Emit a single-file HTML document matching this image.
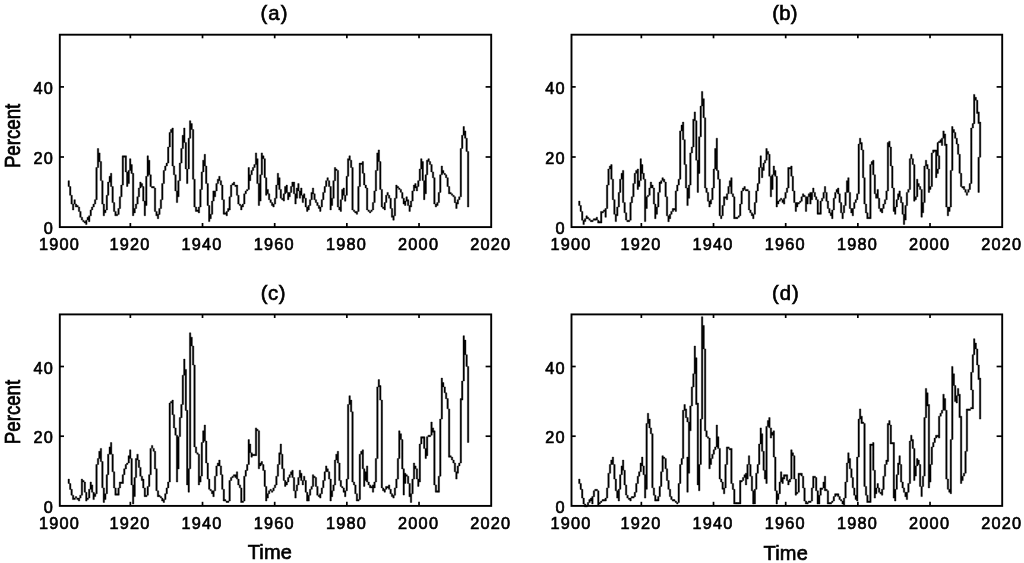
<!DOCTYPE html>
<html><head><meta charset="utf-8"><title>Figure</title>
<style>
html,body{margin:0;padding:0;background:#fff;}
body{width:1024px;height:563px;overflow:hidden;}
svg{display:block;filter:blur(0.4px);}
text{font-family:"Liberation Sans",Arial,Helvetica,sans-serif;fill:#000;stroke:#000;stroke-width:0.65px;}
.tk{font-size:16.3px;letter-spacing:1.2px;}
.ti{font-size:20.3px;letter-spacing:1px;}
.lb{font-size:20px;letter-spacing:0.2px;}
.pl{font-size:18.7px;}
.st{fill:#000;stroke:#000;stroke-width:0.4;stroke-linejoin:round;}
.ax{fill:none;stroke:#000;stroke-width:1.9;}
.t{stroke:#000;stroke-width:1.7;}
.ln{fill:none;stroke:#000;stroke-width:1.75;stroke-linejoin:miter;stroke-miterlimit:3;stroke-linecap:butt;}
</style></head><body>
<svg width="1024" height="563" viewBox="0 0 1024 563">
<rect x="0" y="0" width="1024" height="563" fill="#fff"/>

<g id="panel-a">
<rect class="ax" x="59.80" y="34.70" width="431.40" height="192.40"/>
<text class="tk" transform="translate(59.40,249.70) scale(1.0,1)" text-anchor="middle">1900</text>
<line class="t" x1="130.35" y1="227.10" x2="130.35" y2="223.00"/>
<line class="t" x1="130.35" y1="34.70" x2="130.35" y2="38.30"/>
<text class="tk" transform="translate(129.95,249.70) scale(1.0,1)" text-anchor="middle">1920</text>
<line class="t" x1="202.52" y1="227.10" x2="202.52" y2="223.00"/>
<line class="t" x1="202.52" y1="34.70" x2="202.52" y2="38.30"/>
<text class="tk" transform="translate(202.12,249.70) scale(1.0,1)" text-anchor="middle">1940</text>
<line class="t" x1="274.69" y1="227.10" x2="274.69" y2="223.00"/>
<line class="t" x1="274.69" y1="34.70" x2="274.69" y2="38.30"/>
<text class="tk" transform="translate(274.29,249.70) scale(1.0,1)" text-anchor="middle">1960</text>
<line class="t" x1="346.86" y1="227.10" x2="346.86" y2="223.00"/>
<line class="t" x1="346.86" y1="34.70" x2="346.86" y2="38.30"/>
<text class="tk" transform="translate(346.46,249.70) scale(1.0,1)" text-anchor="middle">1980</text>
<line class="t" x1="419.03" y1="227.10" x2="419.03" y2="223.00"/>
<line class="t" x1="419.03" y1="34.70" x2="419.03" y2="38.30"/>
<text class="tk" transform="translate(418.63,249.70) scale(1.0,1)" text-anchor="middle">2000</text>
<text class="tk" transform="translate(490.80,249.70) scale(1.0,1)" text-anchor="middle">2020</text>
<text class="tk" transform="translate(54.00,234.30) scale(1.0,1)" text-anchor="end">0</text>
<line class="t" x1="59.80" y1="157.00" x2="64.00" y2="157.00"/>
<line class="t" x1="491.20" y1="157.00" x2="485.60" y2="157.00"/>
<text class="tk" transform="translate(54.00,164.20) scale(1.0,1)" text-anchor="end">20</text>
<line class="t" x1="59.80" y1="86.90" x2="64.00" y2="86.90"/>
<line class="t" x1="491.20" y1="86.90" x2="485.60" y2="86.90"/>
<text class="tk" transform="translate(54.00,94.10) scale(1.0,1)" text-anchor="end">40</text>
<text class="ti" style="letter-spacing:1.0px" x="274.5" y="19.5" text-anchor="middle">(a)</text>
<text class="pl" transform="translate(20.1,135.9) rotate(-90) scale(1,1.2)" text-anchor="middle">Percent</text>
<path class="st" d="M68.0 180.7h1.46v5.9h-1.46zM69.5 186.5h1.46v8.8h-1.46zM70.9 195.3h1.46v8.8h-1.46zM72.4 204.1h1.46v5.9h-1.46zM73.9 199.7h1.46v4.4h-1.46zM75.3 204.1h1.46v2.9h-1.46zM76.8 205.5h1.46v1.5h-1.46zM78.3 207.0h1.46v4.4h-1.46zM79.7 211.4h1.46v5.9h-1.46zM81.2 217.2h1.46v2.9h-1.46zM82.7 220.2h1.46v1.5h-1.46zM84.1 221.6h1.46v1.5h-1.46zM85.6 220.2h1.46v4.4h-1.46zM87.0 217.2h1.46v2.9h-1.46zM88.5 215.8h1.46v5.9h-1.46zM90.0 209.9h1.46v5.9h-1.46zM91.4 207.0h1.46v2.9h-1.46zM92.9 204.1h1.46v2.9h-1.46zM94.4 199.7h1.46v4.4h-1.46zM95.8 167.5h1.46v32.2h-1.46zM97.3 148.5h1.46v19.0h-1.46zM98.7 152.9h1.46v8.8h-1.46zM100.2 161.6h1.46v19.0h-1.46zM101.7 180.7h1.46v23.4h-1.46zM103.1 204.1h1.46v11.7h-1.46zM104.6 209.9h1.46v2.9h-1.46zM106.1 195.3h1.46v14.6h-1.46zM107.5 182.1h1.46v13.2h-1.46zM109.0 176.3h1.46v5.9h-1.46zM110.4 173.3h1.46v13.2h-1.46zM111.9 186.5h1.46v16.1h-1.46zM113.4 202.6h1.46v8.8h-1.46zM114.8 211.4h1.46v4.4h-1.46zM116.3 214.3h1.46v1.5h-1.46zM117.8 208.5h1.46v5.9h-1.46zM119.2 196.8h1.46v11.7h-1.46zM120.7 185.1h1.46v11.7h-1.46zM122.1 155.8h1.46v29.3h-1.46zM123.6 155.8h1.46v1.5h-1.46zM125.1 155.8h1.46v16.1h-1.46zM126.5 171.9h1.46v14.6h-1.46zM128.0 170.4h1.46v13.2h-1.46zM129.5 158.7h1.46v11.7h-1.46zM130.9 164.6h1.46v8.8h-1.46zM132.4 173.3h1.46v42.4h-1.46zM133.9 208.5h1.46v4.4h-1.46zM135.3 204.1h1.46v4.4h-1.46zM136.8 196.8h1.46v7.3h-1.46zM138.2 188.0h1.46v8.8h-1.46zM139.7 182.1h1.46v5.9h-1.46zM141.2 183.6h1.46v2.9h-1.46zM142.6 186.5h1.46v14.6h-1.46zM144.1 201.1h1.46v14.6h-1.46zM145.6 176.3h1.46v29.3h-1.46zM147.0 155.8h1.46v20.5h-1.46zM148.5 160.2h1.46v14.6h-1.46zM149.9 174.8h1.46v11.7h-1.46zM151.4 186.5h1.46v1.5h-1.46zM152.9 186.5h1.46v1.5h-1.46zM154.3 188.0h1.46v23.4h-1.46zM155.8 211.4h1.46v4.4h-1.46zM157.3 214.3h1.46v4.4h-1.46zM158.7 208.5h1.46v5.9h-1.46zM160.2 199.7h1.46v8.8h-1.46zM161.6 183.6h1.46v16.1h-1.46zM163.1 170.4h1.46v13.2h-1.46zM164.6 166.0h1.46v4.4h-1.46zM166.0 163.1h1.46v2.9h-1.46zM167.5 147.0h1.46v16.1h-1.46zM169.0 132.4h1.46v14.6h-1.46zM170.4 129.5h1.46v2.9h-1.46zM171.9 128.0h1.46v38.0h-1.46zM173.3 166.0h1.46v8.8h-1.46zM174.8 174.8h1.46v16.1h-1.46zM176.3 190.9h1.46v11.7h-1.46zM177.7 180.7h1.46v16.1h-1.46zM179.2 163.1h1.46v17.6h-1.46zM180.7 148.5h1.46v14.6h-1.46zM182.1 135.3h1.46v13.2h-1.46zM183.6 128.0h1.46v14.6h-1.46zM185.1 142.6h1.46v26.3h-1.46zM186.5 169.0h1.46v14.6h-1.46zM188.0 138.2h1.46v30.7h-1.46zM189.4 120.7h1.46v17.6h-1.46zM190.9 123.6h1.46v5.9h-1.46zM192.4 129.5h1.46v49.7h-1.46zM193.8 179.2h1.46v27.8h-1.46zM195.3 207.0h1.46v4.4h-1.46zM196.8 209.9h1.46v1.5h-1.46zM198.2 207.0h1.46v5.9h-1.46zM199.7 189.4h1.46v17.6h-1.46zM201.1 171.9h1.46v17.6h-1.46zM202.6 160.2h1.46v11.7h-1.46zM204.1 154.3h1.46v11.7h-1.46zM205.5 166.0h1.46v17.6h-1.46zM207.0 183.6h1.46v21.9h-1.46zM208.5 205.5h1.46v16.1h-1.46zM209.9 214.3h1.46v4.4h-1.46zM211.4 201.1h1.46v13.2h-1.46zM212.8 190.9h1.46v10.2h-1.46zM214.3 190.9h1.46v5.9h-1.46zM215.8 183.6h1.46v7.3h-1.46zM217.2 179.2h1.46v4.4h-1.46zM218.7 176.3h1.46v4.4h-1.46zM220.2 180.7h1.46v4.4h-1.46zM221.6 185.1h1.46v14.6h-1.46zM223.1 199.7h1.46v14.6h-1.46zM224.5 212.8h1.46v1.5h-1.46zM226.0 211.4h1.46v4.4h-1.46zM227.5 208.5h1.46v2.9h-1.46zM228.9 196.8h1.46v13.2h-1.46zM230.4 185.1h1.46v11.7h-1.46zM231.9 183.6h1.46v1.5h-1.46zM233.3 182.1h1.46v2.9h-1.46zM234.8 185.1h1.46v1.5h-1.46zM236.3 185.1h1.46v10.2h-1.46zM237.7 195.3h1.46v8.8h-1.46zM239.2 204.1h1.46v1.5h-1.46zM240.6 205.5h1.46v4.4h-1.46zM242.1 204.1h1.46v2.9h-1.46zM243.6 193.8h1.46v10.2h-1.46zM245.0 190.9h1.46v2.9h-1.46zM246.5 189.4h1.46v1.5h-1.46zM248.0 167.5h1.46v21.9h-1.46zM249.4 174.8h1.46v5.9h-1.46zM250.9 170.4h1.46v4.4h-1.46zM252.3 167.5h1.46v2.9h-1.46zM253.8 164.6h1.46v2.9h-1.46zM255.3 152.9h1.46v11.7h-1.46zM256.7 158.7h1.46v24.9h-1.46zM258.2 183.6h1.46v21.9h-1.46zM259.7 174.8h1.46v26.3h-1.46zM261.1 152.9h1.46v21.9h-1.46zM262.6 155.8h1.46v2.9h-1.46zM264.0 158.7h1.46v19.0h-1.46zM265.5 177.7h1.46v17.6h-1.46zM267.0 189.4h1.46v4.4h-1.46zM268.4 193.8h1.46v5.9h-1.46zM269.9 199.7h1.46v2.9h-1.46zM271.4 202.6h1.46v2.9h-1.46zM272.8 204.1h1.46v2.9h-1.46zM274.3 198.2h1.46v5.9h-1.46zM275.7 185.1h1.46v13.2h-1.46zM277.2 173.3h1.46v11.7h-1.46zM278.7 177.7h1.46v11.7h-1.46zM280.1 189.4h1.46v8.8h-1.46zM281.6 198.2h1.46v1.5h-1.46zM283.1 193.8h1.46v7.3h-1.46zM284.5 186.5h1.46v7.3h-1.46zM286.0 185.1h1.46v7.3h-1.46zM287.5 192.4h1.46v7.3h-1.46zM288.9 192.4h1.46v4.4h-1.46zM290.4 186.5h1.46v5.9h-1.46zM291.8 182.1h1.46v4.4h-1.46zM293.3 182.1h1.46v11.7h-1.46zM294.8 193.8h1.46v10.2h-1.46zM296.2 188.0h1.46v10.2h-1.46zM297.7 183.6h1.46v7.3h-1.46zM299.2 190.9h1.46v7.3h-1.46zM300.6 188.0h1.46v7.3h-1.46zM302.1 195.3h1.46v7.3h-1.46zM303.5 193.8h1.46v4.4h-1.46zM305.0 198.2h1.46v8.8h-1.46zM306.5 207.0h1.46v4.4h-1.46zM307.9 205.5h1.46v4.4h-1.46zM309.4 199.7h1.46v5.9h-1.46zM310.9 192.4h1.46v7.3h-1.46zM312.3 188.0h1.46v5.9h-1.46zM313.8 193.8h1.46v5.9h-1.46zM315.2 199.7h1.46v2.9h-1.46zM316.7 202.6h1.46v2.9h-1.46zM318.2 205.5h1.46v2.9h-1.46zM319.6 207.0h1.46v4.4h-1.46zM321.1 199.7h1.46v7.3h-1.46zM322.6 192.4h1.46v7.3h-1.46zM324.0 186.5h1.46v5.9h-1.46zM325.5 180.7h1.46v5.9h-1.46zM326.9 177.7h1.46v2.9h-1.46zM328.4 180.7h1.46v5.9h-1.46zM329.9 186.5h1.46v23.4h-1.46zM331.3 198.2h1.46v7.3h-1.46zM332.8 180.7h1.46v17.6h-1.46zM334.3 167.5h1.46v13.2h-1.46zM335.7 169.0h1.46v1.5h-1.46zM337.2 170.4h1.46v36.6h-1.46zM338.7 207.0h1.46v2.9h-1.46zM340.1 199.7h1.46v11.7h-1.46zM341.6 189.4h1.46v10.2h-1.46zM343.0 188.0h1.46v7.3h-1.46zM344.5 195.3h1.46v5.9h-1.46zM346.0 176.3h1.46v19.0h-1.46zM347.4 158.7h1.46v17.6h-1.46zM348.9 155.8h1.46v4.4h-1.46zM350.4 160.2h1.46v7.3h-1.46zM351.8 167.5h1.46v42.4h-1.46zM353.3 209.9h1.46v1.5h-1.46zM354.7 211.4h1.46v1.5h-1.46zM356.2 211.4h1.46v2.9h-1.46zM357.7 186.5h1.46v24.9h-1.46zM359.1 163.1h1.46v23.4h-1.46zM360.6 163.1h1.46v1.5h-1.46zM362.1 161.6h1.46v11.7h-1.46zM363.5 173.3h1.46v11.7h-1.46zM365.0 185.1h1.46v2.9h-1.46zM366.4 188.0h1.46v21.9h-1.46zM367.9 209.9h1.46v1.5h-1.46zM369.4 211.4h1.46v1.5h-1.46zM370.8 209.9h1.46v1.5h-1.46zM372.3 202.6h1.46v7.3h-1.46zM373.8 190.9h1.46v11.7h-1.46zM375.2 170.4h1.46v20.5h-1.46zM376.7 152.9h1.46v17.6h-1.46zM378.1 149.9h1.46v11.7h-1.46zM379.6 161.6h1.46v27.8h-1.46zM381.1 189.4h1.46v17.6h-1.46zM382.5 207.0h1.46v1.5h-1.46zM384.0 202.6h1.46v7.3h-1.46zM385.5 195.3h1.46v7.3h-1.46zM386.9 192.4h1.46v2.9h-1.46zM388.4 195.3h1.46v2.9h-1.46zM389.9 198.2h1.46v10.2h-1.46zM391.3 208.5h1.46v8.8h-1.46zM392.8 215.8h1.46v4.4h-1.46zM394.2 198.2h1.46v17.6h-1.46zM395.7 185.1h1.46v13.2h-1.46zM397.2 186.5h1.46v1.5h-1.46zM398.6 188.0h1.46v1.5h-1.46zM400.1 189.4h1.46v2.9h-1.46zM401.6 192.4h1.46v5.9h-1.46zM403.0 198.2h1.46v5.9h-1.46zM404.5 201.1h1.46v4.4h-1.46zM405.9 196.8h1.46v4.4h-1.46zM407.4 199.7h1.46v5.9h-1.46zM408.9 205.5h1.46v5.9h-1.46zM410.3 201.1h1.46v5.9h-1.46zM411.8 190.9h1.46v10.2h-1.46zM413.3 185.1h1.46v5.9h-1.46zM414.7 183.6h1.46v4.4h-1.46zM416.2 186.5h1.46v4.4h-1.46zM417.6 180.7h1.46v5.9h-1.46zM419.1 169.0h1.46v11.7h-1.46zM420.6 158.7h1.46v10.2h-1.46zM422.0 161.6h1.46v19.0h-1.46zM423.5 180.7h1.46v19.0h-1.46zM425.0 174.8h1.46v19.0h-1.46zM426.4 160.2h1.46v14.6h-1.46zM427.9 158.7h1.46v2.9h-1.46zM429.3 161.6h1.46v2.9h-1.46zM430.8 164.6h1.46v7.3h-1.46zM432.3 171.9h1.46v5.9h-1.46zM433.7 177.7h1.46v26.3h-1.46zM435.2 204.1h1.46v2.9h-1.46zM436.7 202.6h1.46v2.9h-1.46zM438.1 192.4h1.46v10.2h-1.46zM439.6 174.8h1.46v17.6h-1.46zM441.1 166.0h1.46v8.8h-1.46zM442.5 170.4h1.46v2.9h-1.46zM444.0 173.3h1.46v1.5h-1.46zM445.4 174.8h1.46v2.9h-1.46zM446.9 177.7h1.46v8.8h-1.46zM448.4 186.5h1.46v7.3h-1.46zM449.8 192.4h1.46v1.5h-1.46zM451.3 193.8h1.46v1.5h-1.46zM452.8 195.3h1.46v1.5h-1.46zM454.2 196.8h1.46v5.9h-1.46zM455.7 202.6h1.46v5.9h-1.46zM457.1 199.7h1.46v4.4h-1.46zM458.6 196.8h1.46v2.9h-1.46zM460.1 148.5h1.46v48.3h-1.46zM461.5 135.3h1.46v13.2h-1.46zM463.0 126.5h1.46v8.8h-1.46zM464.5 130.9h1.46v7.3h-1.46zM465.9 138.2h1.46v13.2h-1.46zM467.4 151.4h1.46v55.6h-1.46z"/>
</g>
<g id="panel-b">
<rect class="ax" x="571.50" y="34.70" width="430.70" height="192.40"/>
<text class="tk" transform="translate(571.10,249.70) scale(1.0,1)" text-anchor="middle">1900</text>
<line class="t" x1="641.35" y1="227.10" x2="641.35" y2="223.00"/>
<line class="t" x1="641.35" y1="34.70" x2="641.35" y2="38.30"/>
<text class="tk" transform="translate(640.95,249.70) scale(1.0,1)" text-anchor="middle">1920</text>
<line class="t" x1="713.52" y1="227.10" x2="713.52" y2="223.00"/>
<line class="t" x1="713.52" y1="34.70" x2="713.52" y2="38.30"/>
<text class="tk" transform="translate(713.12,249.70) scale(1.0,1)" text-anchor="middle">1940</text>
<line class="t" x1="785.69" y1="227.10" x2="785.69" y2="223.00"/>
<line class="t" x1="785.69" y1="34.70" x2="785.69" y2="38.30"/>
<text class="tk" transform="translate(785.29,249.70) scale(1.0,1)" text-anchor="middle">1960</text>
<line class="t" x1="857.86" y1="227.10" x2="857.86" y2="223.00"/>
<line class="t" x1="857.86" y1="34.70" x2="857.86" y2="38.30"/>
<text class="tk" transform="translate(857.46,249.70) scale(1.0,1)" text-anchor="middle">1980</text>
<line class="t" x1="930.03" y1="227.10" x2="930.03" y2="223.00"/>
<line class="t" x1="930.03" y1="34.70" x2="930.03" y2="38.30"/>
<text class="tk" transform="translate(929.63,249.70) scale(1.0,1)" text-anchor="middle">2000</text>
<text class="tk" transform="translate(1001.80,249.70) scale(1.0,1)" text-anchor="middle">2020</text>
<text class="tk" transform="translate(565.70,234.30) scale(1.0,1)" text-anchor="end">0</text>
<line class="t" x1="571.50" y1="157.00" x2="575.70" y2="157.00"/>
<line class="t" x1="1002.20" y1="157.00" x2="996.60" y2="157.00"/>
<text class="tk" transform="translate(565.70,164.20) scale(1.0,1)" text-anchor="end">20</text>
<line class="t" x1="571.50" y1="86.90" x2="575.70" y2="86.90"/>
<line class="t" x1="1002.20" y1="86.90" x2="996.60" y2="86.90"/>
<text class="tk" transform="translate(565.70,94.10) scale(1.0,1)" text-anchor="end">40</text>
<text class="ti" style="letter-spacing:0.3px" x="785.0" y="19.5" text-anchor="middle">(b)</text>
<path class="st" d="M578.6 201.1h1.46v4.4h-1.46zM580.0 205.5h1.46v5.9h-1.46zM581.5 211.4h1.46v8.8h-1.46zM582.9 220.2h1.46v4.4h-1.46zM584.4 218.7h1.46v2.9h-1.46zM585.9 215.8h1.46v2.9h-1.46zM587.3 217.2h1.46v1.5h-1.46zM588.8 218.7h1.46v1.5h-1.46zM590.3 220.2h1.46v1.5h-1.46zM591.7 220.2h1.46v1.5h-1.46zM593.2 218.7h1.46v1.5h-1.46zM594.7 218.7h1.46v1.5h-1.46zM596.1 217.2h1.46v2.9h-1.46zM597.6 220.2h1.46v2.9h-1.46zM599.0 221.6h1.46v1.5h-1.46zM600.5 211.4h1.46v11.7h-1.46zM602.0 211.4h1.46v1.5h-1.46zM603.4 209.9h1.46v1.5h-1.46zM604.9 208.5h1.46v8.8h-1.46zM606.4 185.1h1.46v23.4h-1.46zM607.8 169.0h1.46v16.1h-1.46zM609.3 166.0h1.46v2.9h-1.46zM610.7 164.6h1.46v14.6h-1.46zM612.2 179.2h1.46v20.5h-1.46zM613.7 199.7h1.46v14.6h-1.46zM615.1 214.3h1.46v7.3h-1.46zM616.6 207.0h1.46v8.8h-1.46zM618.1 192.4h1.46v14.6h-1.46zM619.5 179.2h1.46v13.2h-1.46zM621.0 173.3h1.46v5.9h-1.46zM622.4 170.4h1.46v32.2h-1.46zM623.9 202.6h1.46v10.2h-1.46zM625.4 212.8h1.46v7.3h-1.46zM626.8 220.2h1.46v1.5h-1.46zM628.3 220.2h1.46v1.5h-1.46zM629.8 202.6h1.46v17.6h-1.46zM631.2 196.8h1.46v5.9h-1.46zM632.7 183.6h1.46v13.2h-1.46zM634.1 173.3h1.46v10.2h-1.46zM635.6 170.4h1.46v2.9h-1.46zM637.1 169.0h1.46v20.5h-1.46zM638.5 180.7h1.46v5.9h-1.46zM640.0 158.7h1.46v21.9h-1.46zM641.5 164.6h1.46v8.8h-1.46zM642.9 173.3h1.46v5.9h-1.46zM644.4 179.2h1.46v42.4h-1.46zM645.9 196.8h1.46v11.7h-1.46zM647.3 195.3h1.46v1.5h-1.46zM648.8 188.0h1.46v7.3h-1.46zM650.2 182.1h1.46v5.9h-1.46zM651.7 185.1h1.46v2.9h-1.46zM653.2 188.0h1.46v16.1h-1.46zM654.6 204.1h1.46v14.6h-1.46zM656.1 207.0h1.46v7.3h-1.46zM657.6 192.4h1.46v14.6h-1.46zM659.0 182.1h1.46v10.2h-1.46zM660.5 180.7h1.46v2.9h-1.46zM661.9 177.7h1.46v2.9h-1.46zM663.4 179.2h1.46v2.9h-1.46zM664.9 182.1h1.46v14.6h-1.46zM666.3 196.8h1.46v19.0h-1.46zM667.8 215.8h1.46v5.9h-1.46zM669.3 214.3h1.46v4.4h-1.46zM670.7 211.4h1.46v2.9h-1.46zM672.2 208.5h1.46v2.9h-1.46zM673.6 208.5h1.46v1.5h-1.46zM675.1 190.9h1.46v20.5h-1.46zM676.6 185.1h1.46v5.9h-1.46zM678.0 179.2h1.46v5.9h-1.46zM679.5 130.9h1.46v48.3h-1.46zM681.0 125.1h1.46v5.9h-1.46zM682.4 122.1h1.46v17.6h-1.46zM683.9 139.7h1.46v24.9h-1.46zM685.3 164.6h1.46v23.4h-1.46zM686.8 188.0h1.46v17.6h-1.46zM688.3 185.1h1.46v13.2h-1.46zM689.7 152.9h1.46v32.2h-1.46zM691.2 147.0h1.46v5.9h-1.46zM692.7 119.2h1.46v27.8h-1.46zM694.1 111.9h1.46v8.8h-1.46zM695.6 120.7h1.46v39.5h-1.46zM697.1 160.2h1.46v32.2h-1.46zM698.5 136.8h1.46v36.6h-1.46zM700.0 106.1h1.46v30.7h-1.46zM701.4 91.4h1.46v14.6h-1.46zM702.9 98.7h1.46v19.0h-1.46zM704.4 117.8h1.46v70.2h-1.46zM705.8 188.0h1.46v4.4h-1.46zM707.3 192.4h1.46v8.8h-1.46zM708.8 201.1h1.46v5.9h-1.46zM710.2 199.7h1.46v4.4h-1.46zM711.7 188.0h1.46v11.7h-1.46zM713.1 169.0h1.46v19.0h-1.46zM714.6 148.5h1.46v20.5h-1.46zM716.1 138.2h1.46v32.2h-1.46zM717.5 170.4h1.46v8.8h-1.46zM719.0 179.2h1.46v36.6h-1.46zM720.5 215.8h1.46v2.9h-1.46zM721.9 205.5h1.46v10.2h-1.46zM723.4 196.8h1.46v8.8h-1.46zM724.8 196.8h1.46v1.5h-1.46zM726.3 193.8h1.46v5.9h-1.46zM727.8 186.5h1.46v7.3h-1.46zM729.2 180.7h1.46v5.9h-1.46zM730.7 177.7h1.46v16.1h-1.46zM732.2 193.8h1.46v2.9h-1.46zM733.6 196.8h1.46v21.9h-1.46zM735.1 217.2h1.46v1.5h-1.46zM736.5 217.2h1.46v1.5h-1.46zM738.0 215.8h1.46v1.5h-1.46zM739.5 204.1h1.46v11.7h-1.46zM740.9 190.9h1.46v13.2h-1.46zM742.4 188.0h1.46v2.9h-1.46zM743.9 186.5h1.46v2.9h-1.46zM745.3 189.4h1.46v1.5h-1.46zM746.8 189.4h1.46v1.5h-1.46zM748.3 190.9h1.46v19.0h-1.46zM749.7 209.9h1.46v2.9h-1.46zM751.2 212.8h1.46v2.9h-1.46zM752.6 214.3h1.46v4.4h-1.46zM754.1 202.6h1.46v11.7h-1.46zM755.6 190.9h1.46v11.7h-1.46zM757.0 183.6h1.46v7.3h-1.46zM758.5 167.5h1.46v16.1h-1.46zM760.0 155.8h1.46v11.7h-1.46zM761.4 167.5h1.46v10.2h-1.46zM762.9 163.1h1.46v7.3h-1.46zM764.3 160.2h1.46v2.9h-1.46zM765.8 148.5h1.46v11.7h-1.46zM767.3 151.4h1.46v2.9h-1.46zM768.7 154.3h1.46v21.9h-1.46zM770.2 176.3h1.46v20.5h-1.46zM771.7 174.8h1.46v14.6h-1.46zM773.1 166.0h1.46v8.8h-1.46zM774.6 170.4h1.46v5.9h-1.46zM776.0 176.3h1.46v30.7h-1.46zM777.5 201.1h1.46v2.9h-1.46zM779.0 199.7h1.46v1.5h-1.46zM780.4 198.2h1.46v1.5h-1.46zM781.9 199.7h1.46v2.9h-1.46zM783.4 198.2h1.46v5.9h-1.46zM784.8 192.4h1.46v5.9h-1.46zM786.3 188.0h1.46v4.4h-1.46zM787.7 167.5h1.46v20.5h-1.46zM789.2 167.5h1.46v1.5h-1.46zM790.7 166.0h1.46v10.2h-1.46zM792.1 176.3h1.46v14.6h-1.46zM793.6 190.9h1.46v11.7h-1.46zM795.1 202.6h1.46v8.8h-1.46zM796.5 202.6h1.46v4.4h-1.46zM798.0 202.6h1.46v1.5h-1.46zM799.5 201.1h1.46v1.5h-1.46zM800.9 196.8h1.46v4.4h-1.46zM802.4 193.8h1.46v2.9h-1.46zM803.8 195.3h1.46v1.5h-1.46zM805.3 196.8h1.46v14.6h-1.46zM806.8 196.8h1.46v7.3h-1.46zM808.2 193.8h1.46v2.9h-1.46zM809.7 192.4h1.46v11.7h-1.46zM811.2 192.4h1.46v7.3h-1.46zM812.6 188.0h1.46v4.4h-1.46zM814.1 192.4h1.46v4.4h-1.46zM815.5 196.8h1.46v2.9h-1.46zM817.0 199.7h1.46v14.6h-1.46zM818.5 212.8h1.46v1.5h-1.46zM819.9 201.1h1.46v13.2h-1.46zM821.4 198.2h1.46v2.9h-1.46zM822.9 192.4h1.46v5.9h-1.46zM824.3 186.5h1.46v5.9h-1.46zM825.8 192.4h1.46v8.8h-1.46zM827.2 201.1h1.46v7.3h-1.46zM828.7 208.5h1.46v4.4h-1.46zM830.2 212.8h1.46v2.9h-1.46zM831.6 209.9h1.46v8.8h-1.46zM833.1 198.2h1.46v11.7h-1.46zM834.6 192.4h1.46v5.9h-1.46zM836.0 189.4h1.46v2.9h-1.46zM837.5 188.0h1.46v5.9h-1.46zM838.9 193.8h1.46v8.8h-1.46zM840.4 202.6h1.46v10.2h-1.46zM841.9 212.8h1.46v5.9h-1.46zM843.3 205.5h1.46v7.3h-1.46zM844.8 192.4h1.46v13.2h-1.46zM846.3 180.7h1.46v11.7h-1.46zM847.7 177.7h1.46v14.6h-1.46zM849.2 192.4h1.46v16.1h-1.46zM850.7 208.5h1.46v4.4h-1.46zM852.1 208.5h1.46v7.3h-1.46zM853.6 202.6h1.46v5.9h-1.46zM855.0 199.7h1.46v2.9h-1.46zM856.5 193.8h1.46v5.9h-1.46zM858.0 144.1h1.46v49.7h-1.46zM859.4 138.2h1.46v5.9h-1.46zM860.9 142.6h1.46v7.3h-1.46zM862.4 149.9h1.46v27.8h-1.46zM863.8 177.7h1.46v26.3h-1.46zM865.3 204.1h1.46v8.8h-1.46zM866.7 212.8h1.46v5.9h-1.46zM868.2 217.2h1.46v1.5h-1.46zM869.7 164.6h1.46v54.1h-1.46zM871.1 161.6h1.46v2.9h-1.46zM872.6 160.2h1.46v14.6h-1.46zM874.1 174.8h1.46v19.0h-1.46zM875.5 193.8h1.46v4.4h-1.46zM877.0 189.4h1.46v8.8h-1.46zM878.4 198.2h1.46v10.2h-1.46zM879.9 208.5h1.46v2.9h-1.46zM881.4 208.5h1.46v4.4h-1.46zM882.8 204.1h1.46v4.4h-1.46zM884.3 199.7h1.46v4.4h-1.46zM885.8 190.9h1.46v8.8h-1.46zM887.2 142.6h1.46v48.3h-1.46zM888.7 141.2h1.46v5.9h-1.46zM890.1 147.0h1.46v19.0h-1.46zM891.6 166.0h1.46v21.9h-1.46zM893.1 188.0h1.46v23.4h-1.46zM894.5 207.0h1.46v7.3h-1.46zM896.0 199.7h1.46v7.3h-1.46zM897.5 193.8h1.46v5.9h-1.46zM898.9 190.9h1.46v5.9h-1.46zM900.4 196.8h1.46v5.9h-1.46zM901.9 202.6h1.46v11.7h-1.46zM903.3 214.3h1.46v10.2h-1.46zM904.8 205.5h1.46v14.6h-1.46zM906.2 192.4h1.46v13.2h-1.46zM907.7 189.4h1.46v2.9h-1.46zM909.2 158.7h1.46v30.7h-1.46zM910.6 154.3h1.46v4.4h-1.46zM912.1 158.7h1.46v5.9h-1.46zM913.6 164.6h1.46v36.6h-1.46zM915.0 196.8h1.46v2.9h-1.46zM916.5 179.2h1.46v17.6h-1.46zM917.9 183.6h1.46v2.9h-1.46zM919.4 186.5h1.46v2.9h-1.46zM920.9 189.4h1.46v27.8h-1.46zM922.3 202.6h1.46v10.2h-1.46zM923.8 166.0h1.46v36.6h-1.46zM925.3 160.2h1.46v5.9h-1.46zM926.7 164.6h1.46v4.4h-1.46zM928.2 169.0h1.46v23.4h-1.46zM929.6 186.5h1.46v2.9h-1.46zM931.1 152.9h1.46v33.6h-1.46zM932.6 149.9h1.46v2.9h-1.46zM934.0 149.9h1.46v1.5h-1.46zM935.5 149.9h1.46v27.8h-1.46zM937.0 142.6h1.46v13.2h-1.46zM937.0 169.0h1.46v4.4h-1.46zM938.4 141.2h1.46v1.5h-1.46zM938.4 155.8h1.46v13.2h-1.46zM939.9 139.7h1.46v2.9h-1.46zM941.3 138.2h1.46v7.3h-1.46zM942.8 130.9h1.46v7.3h-1.46zM944.3 133.9h1.46v11.7h-1.46zM945.7 144.1h1.46v62.9h-1.46zM947.2 207.0h1.46v8.8h-1.46zM948.7 207.0h1.46v4.4h-1.46zM950.1 170.4h1.46v36.6h-1.46zM951.6 126.5h1.46v43.9h-1.46zM953.1 129.5h1.46v2.9h-1.46zM954.5 132.4h1.46v5.9h-1.46zM956.0 138.2h1.46v5.9h-1.46zM957.4 144.1h1.46v10.2h-1.46zM958.9 154.3h1.46v19.0h-1.46zM960.4 173.3h1.46v13.2h-1.46zM961.8 186.5h1.46v1.5h-1.46zM963.3 186.5h1.46v2.9h-1.46zM964.8 189.4h1.46v2.9h-1.46zM966.2 192.4h1.46v2.9h-1.46zM967.7 189.4h1.46v2.9h-1.46zM969.1 183.6h1.46v5.9h-1.46zM970.6 128.0h1.46v55.6h-1.46zM972.1 123.6h1.46v4.4h-1.46zM973.5 94.4h1.46v29.3h-1.46zM975.0 97.3h1.46v2.9h-1.46zM976.5 100.2h1.46v13.2h-1.46zM977.9 111.9h1.46v11.7h-1.46zM977.9 157.3h1.46v35.1h-1.46zM979.4 122.1h1.46v35.1h-1.46z"/>
</g>
<g id="panel-c">
<rect class="ax" x="59.80" y="314.40" width="431.40" height="191.50"/>
<text class="tk" transform="translate(59.40,528.50) scale(1.0,1)" text-anchor="middle">1900</text>
<line class="t" x1="130.35" y1="505.90" x2="130.35" y2="501.80"/>
<line class="t" x1="130.35" y1="314.40" x2="130.35" y2="318.00"/>
<text class="tk" transform="translate(129.95,528.50) scale(1.0,1)" text-anchor="middle">1920</text>
<line class="t" x1="202.52" y1="505.90" x2="202.52" y2="501.80"/>
<line class="t" x1="202.52" y1="314.40" x2="202.52" y2="318.00"/>
<text class="tk" transform="translate(202.12,528.50) scale(1.0,1)" text-anchor="middle">1940</text>
<line class="t" x1="274.69" y1="505.90" x2="274.69" y2="501.80"/>
<line class="t" x1="274.69" y1="314.40" x2="274.69" y2="318.00"/>
<text class="tk" transform="translate(274.29,528.50) scale(1.0,1)" text-anchor="middle">1960</text>
<line class="t" x1="346.86" y1="505.90" x2="346.86" y2="501.80"/>
<line class="t" x1="346.86" y1="314.40" x2="346.86" y2="318.00"/>
<text class="tk" transform="translate(346.46,528.50) scale(1.0,1)" text-anchor="middle">1980</text>
<line class="t" x1="419.03" y1="505.90" x2="419.03" y2="501.80"/>
<line class="t" x1="419.03" y1="314.40" x2="419.03" y2="318.00"/>
<text class="tk" transform="translate(418.63,528.50) scale(1.0,1)" text-anchor="middle">2000</text>
<text class="tk" transform="translate(490.80,528.50) scale(1.0,1)" text-anchor="middle">2020</text>
<text class="tk" transform="translate(54.00,513.10) scale(1.0,1)" text-anchor="end">0</text>
<line class="t" x1="59.80" y1="436.20" x2="64.00" y2="436.20"/>
<line class="t" x1="491.20" y1="436.20" x2="485.60" y2="436.20"/>
<text class="tk" transform="translate(54.00,443.40) scale(1.0,1)" text-anchor="end">20</text>
<line class="t" x1="59.80" y1="366.50" x2="64.00" y2="366.50"/>
<line class="t" x1="491.20" y1="366.50" x2="485.60" y2="366.50"/>
<text class="tk" transform="translate(54.00,373.70) scale(1.0,1)" text-anchor="end">40</text>
<text class="ti" style="letter-spacing:0.5px" x="273.4" y="300.3" text-anchor="middle">(c)</text>
<text class="pl" transform="translate(20.1,412.0) rotate(-90) scale(1,1.2)" text-anchor="middle">Percent</text>
<text class="lb" x="269.9" y="558.6" text-anchor="middle">Time</text>
<path class="st" d="M68.0 479.1h1.46v4.4h-1.46zM69.5 483.5h1.46v5.9h-1.46zM70.9 489.3h1.46v5.9h-1.46zM72.4 495.2h1.46v4.4h-1.46zM73.9 498.1h1.46v1.5h-1.46zM75.3 496.6h1.46v1.5h-1.46zM76.8 498.1h1.46v1.5h-1.46zM78.3 498.1h1.46v2.9h-1.46zM79.7 495.2h1.46v2.9h-1.46zM81.2 479.1h1.46v16.1h-1.46zM82.7 480.5h1.46v1.5h-1.46zM84.1 482.0h1.46v10.2h-1.46zM85.6 492.3h1.46v8.8h-1.46zM87.0 498.1h1.46v1.5h-1.46zM88.5 489.3h1.46v8.8h-1.46zM90.0 482.0h1.46v7.3h-1.46zM91.4 484.9h1.46v7.3h-1.46zM92.9 492.3h1.46v7.3h-1.46zM94.4 493.7h1.46v2.9h-1.46zM95.8 464.5h1.46v29.3h-1.46zM97.3 458.6h1.46v5.9h-1.46zM98.7 451.3h1.46v7.3h-1.46zM100.2 448.4h1.46v13.2h-1.46zM101.7 461.5h1.46v26.3h-1.46zM103.1 487.9h1.46v14.6h-1.46zM104.6 493.7h1.46v5.9h-1.46zM106.1 474.7h1.46v19.0h-1.46zM107.5 454.2h1.46v20.5h-1.46zM109.0 446.9h1.46v7.3h-1.46zM110.4 442.5h1.46v11.7h-1.46zM111.9 454.2h1.46v17.6h-1.46zM113.4 471.8h1.46v16.1h-1.46zM114.8 487.9h1.46v7.3h-1.46zM116.3 493.7h1.46v1.5h-1.46zM117.8 487.9h1.46v7.3h-1.46zM119.2 482.0h1.46v5.9h-1.46zM120.7 482.0h1.46v1.5h-1.46zM122.1 474.7h1.46v8.8h-1.46zM123.6 468.8h1.46v5.9h-1.46zM125.1 464.5h1.46v4.4h-1.46zM126.5 463.0h1.46v1.5h-1.46zM128.0 455.7h1.46v7.3h-1.46zM129.5 449.8h1.46v8.8h-1.46zM130.9 458.6h1.46v26.3h-1.46zM132.4 484.9h1.46v19.0h-1.46zM133.9 477.6h1.46v19.0h-1.46zM135.3 458.6h1.46v19.0h-1.46zM136.8 454.2h1.46v5.9h-1.46zM138.2 460.1h1.46v7.3h-1.46zM139.7 467.4h1.46v8.8h-1.46zM141.2 476.2h1.46v4.4h-1.46zM142.6 479.1h1.46v8.8h-1.46zM144.1 487.9h1.46v8.8h-1.46zM145.6 495.2h1.46v1.5h-1.46zM147.0 486.4h1.46v8.8h-1.46zM148.5 474.7h1.46v11.7h-1.46zM149.9 448.4h1.46v26.3h-1.46zM151.4 445.4h1.46v2.9h-1.46zM152.9 448.4h1.46v2.9h-1.46zM154.3 451.3h1.46v17.6h-1.46zM155.8 468.8h1.46v21.9h-1.46zM157.3 490.8h1.46v5.9h-1.46zM158.7 495.2h1.46v1.5h-1.46zM160.2 496.6h1.46v1.5h-1.46zM161.6 498.1h1.46v2.9h-1.46zM163.1 499.6h1.46v2.9h-1.46zM164.6 493.7h1.46v5.9h-1.46zM166.0 487.9h1.46v5.9h-1.46zM167.5 482.0h1.46v5.9h-1.46zM169.0 403.0h1.46v79.0h-1.46zM170.4 401.6h1.46v1.5h-1.46zM171.9 400.1h1.46v14.6h-1.46zM173.3 414.7h1.46v13.2h-1.46zM174.8 427.9h1.46v7.3h-1.46zM176.3 435.2h1.46v46.8h-1.46zM177.7 436.7h1.46v32.2h-1.46zM179.2 417.6h1.46v19.0h-1.46zM180.7 404.5h1.46v13.2h-1.46zM182.1 375.2h1.46v29.3h-1.46zM183.6 359.1h1.46v16.1h-1.46zM185.1 369.4h1.46v41.0h-1.46zM186.5 410.3h1.46v74.6h-1.46zM188.0 468.8h1.46v23.4h-1.46zM189.4 332.8h1.46v136.0h-1.46zM190.9 337.2h1.46v8.8h-1.46zM192.4 346.0h1.46v19.0h-1.46zM193.8 365.0h1.46v81.9h-1.46zM195.3 446.9h1.46v5.9h-1.46zM196.8 452.8h1.46v1.5h-1.46zM198.2 454.2h1.46v30.7h-1.46zM199.7 476.2h1.46v5.9h-1.46zM201.1 442.5h1.46v33.6h-1.46zM202.6 430.8h1.46v11.7h-1.46zM204.1 425.0h1.46v16.1h-1.46zM205.5 441.1h1.46v21.9h-1.46zM207.0 463.0h1.46v16.1h-1.46zM208.5 479.1h1.46v10.2h-1.46zM209.9 489.3h1.46v1.5h-1.46zM211.4 490.8h1.46v2.9h-1.46zM212.8 490.8h1.46v5.9h-1.46zM214.3 476.2h1.46v14.6h-1.46zM215.8 465.9h1.46v10.2h-1.46zM217.2 463.0h1.46v2.9h-1.46zM218.7 460.1h1.46v5.9h-1.46zM220.2 465.9h1.46v8.8h-1.46zM221.6 474.7h1.46v14.6h-1.46zM223.1 489.3h1.46v11.7h-1.46zM224.5 499.6h1.46v1.5h-1.46zM226.0 501.0h1.46v1.5h-1.46zM227.5 501.0h1.46v1.5h-1.46zM228.9 480.5h1.46v20.5h-1.46zM230.4 477.6h1.46v2.9h-1.46zM231.9 476.2h1.46v1.5h-1.46zM233.3 474.7h1.46v1.5h-1.46zM234.8 474.7h1.46v2.9h-1.46zM236.3 471.8h1.46v7.3h-1.46zM237.7 479.1h1.46v5.9h-1.46zM239.2 484.9h1.46v2.9h-1.46zM240.6 487.9h1.46v14.6h-1.46zM242.1 501.0h1.46v1.5h-1.46zM243.6 476.2h1.46v24.9h-1.46zM245.0 470.3h1.46v5.9h-1.46zM246.5 464.5h1.46v5.9h-1.46zM248.0 439.6h1.46v24.9h-1.46zM249.4 444.0h1.46v8.8h-1.46zM250.9 452.8h1.46v4.4h-1.46zM252.3 454.2h1.46v1.5h-1.46zM253.8 454.2h1.46v1.5h-1.46zM255.3 427.9h1.46v27.8h-1.46zM256.7 429.3h1.46v1.5h-1.46zM258.2 430.8h1.46v38.0h-1.46zM259.7 463.0h1.46v2.9h-1.46zM261.1 461.5h1.46v2.9h-1.46zM262.6 464.5h1.46v5.9h-1.46zM264.0 470.3h1.46v16.1h-1.46zM265.5 486.4h1.46v14.6h-1.46zM267.0 493.7h1.46v4.4h-1.46zM268.4 490.8h1.46v2.9h-1.46zM269.9 489.3h1.46v1.5h-1.46zM271.4 490.8h1.46v1.5h-1.46zM272.8 487.9h1.46v2.9h-1.46zM274.3 484.9h1.46v2.9h-1.46zM275.7 476.2h1.46v8.8h-1.46zM277.2 464.5h1.46v11.7h-1.46zM278.7 452.8h1.46v11.7h-1.46zM280.1 444.0h1.46v10.2h-1.46zM281.6 454.2h1.46v14.6h-1.46zM283.1 468.8h1.46v11.7h-1.46zM284.5 480.5h1.46v5.9h-1.46zM286.0 482.0h1.46v2.9h-1.46zM287.5 477.6h1.46v4.4h-1.46zM288.9 474.7h1.46v2.9h-1.46zM290.4 471.8h1.46v2.9h-1.46zM291.8 470.3h1.46v7.3h-1.46zM293.3 477.6h1.46v13.2h-1.46zM294.8 490.8h1.46v7.3h-1.46zM296.2 484.9h1.46v5.9h-1.46zM297.7 477.6h1.46v7.3h-1.46zM299.2 470.3h1.46v7.3h-1.46zM300.6 473.2h1.46v7.3h-1.46zM302.1 480.5h1.46v4.4h-1.46zM303.5 476.2h1.46v4.4h-1.46zM305.0 480.5h1.46v11.7h-1.46zM306.5 492.3h1.46v8.8h-1.46zM307.9 495.2h1.46v5.9h-1.46zM309.4 489.3h1.46v5.9h-1.46zM310.9 486.4h1.46v2.9h-1.46zM312.3 474.7h1.46v11.7h-1.46zM313.8 476.2h1.46v1.5h-1.46zM315.2 477.6h1.46v8.8h-1.46zM316.7 486.4h1.46v8.8h-1.46zM318.2 495.2h1.46v1.5h-1.46zM319.6 493.7h1.46v4.4h-1.46zM321.1 487.9h1.46v5.9h-1.46zM322.6 480.5h1.46v7.3h-1.46zM324.0 471.8h1.46v8.8h-1.46zM325.5 465.9h1.46v5.9h-1.46zM326.9 468.8h1.46v2.9h-1.46zM328.4 471.8h1.46v7.3h-1.46zM329.9 479.1h1.46v21.9h-1.46zM331.3 490.8h1.46v5.9h-1.46zM332.8 484.9h1.46v5.9h-1.46zM334.3 460.1h1.46v24.9h-1.46zM335.7 454.2h1.46v5.9h-1.46zM337.2 451.3h1.46v11.7h-1.46zM338.7 463.0h1.46v17.6h-1.46zM340.1 480.5h1.46v5.9h-1.46zM341.6 486.4h1.46v1.5h-1.46zM343.0 487.9h1.46v4.4h-1.46zM344.5 490.8h1.46v5.9h-1.46zM346.0 479.1h1.46v11.7h-1.46zM347.4 404.5h1.46v74.6h-1.46zM348.9 395.7h1.46v8.8h-1.46zM350.4 400.1h1.46v11.7h-1.46zM351.8 411.8h1.46v70.2h-1.46zM353.3 482.0h1.46v2.9h-1.46zM354.7 484.9h1.46v8.8h-1.46zM356.2 493.7h1.46v7.3h-1.46zM357.7 499.6h1.46v1.5h-1.46zM359.1 454.2h1.46v45.3h-1.46zM360.6 451.3h1.46v2.9h-1.46zM362.1 449.8h1.46v19.0h-1.46zM363.5 468.8h1.46v17.6h-1.46zM365.0 471.8h1.46v8.8h-1.46zM366.4 465.9h1.46v16.1h-1.46zM367.9 482.0h1.46v2.9h-1.46zM369.4 484.9h1.46v2.9h-1.46zM370.8 486.4h1.46v1.5h-1.46zM372.3 484.9h1.46v7.3h-1.46zM373.8 482.0h1.46v5.9h-1.46zM375.2 458.6h1.46v23.4h-1.46zM376.7 386.9h1.46v71.7h-1.46zM378.1 379.6h1.46v7.3h-1.46zM379.6 385.5h1.46v14.6h-1.46zM381.1 400.1h1.46v87.8h-1.46zM382.5 487.9h1.46v2.9h-1.46zM384.0 489.3h1.46v2.9h-1.46zM385.5 486.4h1.46v2.9h-1.46zM386.9 486.4h1.46v1.5h-1.46zM388.4 484.9h1.46v4.4h-1.46zM389.9 489.3h1.46v4.4h-1.46zM391.3 493.7h1.46v2.9h-1.46zM392.8 495.2h1.46v2.9h-1.46zM394.2 487.9h1.46v7.3h-1.46zM395.7 479.1h1.46v8.8h-1.46zM397.2 458.6h1.46v20.5h-1.46zM398.6 430.8h1.46v27.8h-1.46zM400.1 433.7h1.46v5.9h-1.46zM401.6 439.6h1.46v29.3h-1.46zM403.0 468.8h1.46v26.3h-1.46zM404.5 473.2h1.46v10.2h-1.46zM405.9 474.7h1.46v1.5h-1.46zM407.4 476.2h1.46v7.3h-1.46zM408.9 483.5h1.46v13.2h-1.46zM410.3 493.7h1.46v8.8h-1.46zM411.8 479.1h1.46v14.6h-1.46zM413.3 463.0h1.46v16.1h-1.46zM414.7 465.9h1.46v2.9h-1.46zM416.2 468.8h1.46v10.2h-1.46zM417.6 479.1h1.46v7.3h-1.46zM419.1 444.0h1.46v38.0h-1.46zM420.6 436.7h1.46v7.3h-1.46zM422.0 436.7h1.46v1.5h-1.46zM423.5 436.7h1.46v11.7h-1.46zM425.0 448.4h1.46v10.2h-1.46zM426.4 436.7h1.46v19.0h-1.46zM427.9 435.2h1.46v1.5h-1.46zM429.3 435.2h1.46v1.5h-1.46zM430.8 422.0h1.46v13.2h-1.46zM432.3 427.9h1.46v4.4h-1.46zM433.7 430.8h1.46v54.1h-1.46zM435.2 484.9h1.46v7.3h-1.46zM436.7 490.8h1.46v1.5h-1.46zM438.1 476.2h1.46v16.1h-1.46zM439.6 419.1h1.46v57.1h-1.46zM441.1 378.1h1.46v41.0h-1.46zM442.5 382.5h1.46v4.4h-1.46zM444.0 386.9h1.46v5.9h-1.46zM445.4 392.8h1.46v5.9h-1.46zM446.9 398.6h1.46v10.2h-1.46zM448.4 408.9h1.46v48.3h-1.46zM449.8 455.7h1.46v1.5h-1.46zM451.3 457.1h1.46v2.9h-1.46zM452.8 460.1h1.46v2.9h-1.46zM454.2 463.0h1.46v8.8h-1.46zM455.7 471.8h1.46v7.3h-1.46zM457.1 465.9h1.46v7.3h-1.46zM458.6 463.0h1.46v2.9h-1.46zM460.1 398.6h1.46v64.4h-1.46zM461.5 381.1h1.46v19.0h-1.46zM463.0 335.7h1.46v45.3h-1.46zM464.5 340.1h1.46v14.6h-1.46zM465.9 354.7h1.46v11.7h-1.46zM467.4 366.4h1.46v76.1h-1.46z"/>
</g>
<g id="panel-d">
<rect class="ax" x="571.50" y="314.40" width="430.70" height="191.50"/>
<text class="tk" transform="translate(571.10,528.50) scale(1.0,1)" text-anchor="middle">1900</text>
<line class="t" x1="641.35" y1="505.90" x2="641.35" y2="501.80"/>
<line class="t" x1="641.35" y1="314.40" x2="641.35" y2="318.00"/>
<text class="tk" transform="translate(640.95,528.50) scale(1.0,1)" text-anchor="middle">1920</text>
<line class="t" x1="713.52" y1="505.90" x2="713.52" y2="501.80"/>
<line class="t" x1="713.52" y1="314.40" x2="713.52" y2="318.00"/>
<text class="tk" transform="translate(713.12,528.50) scale(1.0,1)" text-anchor="middle">1940</text>
<line class="t" x1="785.69" y1="505.90" x2="785.69" y2="501.80"/>
<line class="t" x1="785.69" y1="314.40" x2="785.69" y2="318.00"/>
<text class="tk" transform="translate(785.29,528.50) scale(1.0,1)" text-anchor="middle">1960</text>
<line class="t" x1="857.86" y1="505.90" x2="857.86" y2="501.80"/>
<line class="t" x1="857.86" y1="314.40" x2="857.86" y2="318.00"/>
<text class="tk" transform="translate(857.46,528.50) scale(1.0,1)" text-anchor="middle">1980</text>
<line class="t" x1="930.03" y1="505.90" x2="930.03" y2="501.80"/>
<line class="t" x1="930.03" y1="314.40" x2="930.03" y2="318.00"/>
<text class="tk" transform="translate(929.63,528.50) scale(1.0,1)" text-anchor="middle">2000</text>
<text class="tk" transform="translate(1001.80,528.50) scale(1.0,1)" text-anchor="middle">2020</text>
<text class="tk" transform="translate(565.70,513.10) scale(1.0,1)" text-anchor="end">0</text>
<line class="t" x1="571.50" y1="436.20" x2="575.70" y2="436.20"/>
<line class="t" x1="1002.20" y1="436.20" x2="996.60" y2="436.20"/>
<text class="tk" transform="translate(565.70,443.40) scale(1.0,1)" text-anchor="end">20</text>
<line class="t" x1="571.50" y1="366.50" x2="575.70" y2="366.50"/>
<line class="t" x1="1002.20" y1="366.50" x2="996.60" y2="366.50"/>
<text class="tk" transform="translate(565.70,373.70) scale(1.0,1)" text-anchor="end">40</text>
<text class="ti" style="letter-spacing:1.0px" x="785.8" y="300.3" text-anchor="middle">(d)</text>
<text class="lb" x="785.8" y="559.8" text-anchor="middle">Time</text>
<path class="st" d="M578.6 479.1h1.46v4.4h-1.46zM580.0 483.5h1.46v5.9h-1.46zM581.5 489.3h1.46v8.8h-1.46zM582.9 498.1h1.46v5.9h-1.46zM584.4 504.0h1.46v2.9h-1.46zM585.9 505.4h1.46v1.5h-1.46zM587.3 502.5h1.46v2.9h-1.46zM588.8 499.6h1.46v2.9h-1.46zM590.3 498.1h1.46v2.9h-1.46zM591.7 496.6h1.46v7.3h-1.46zM593.2 490.8h1.46v5.9h-1.46zM594.7 489.3h1.46v1.5h-1.46zM596.1 489.3h1.46v1.5h-1.46zM597.6 490.8h1.46v14.6h-1.46zM599.0 502.5h1.46v1.5h-1.46zM600.5 501.0h1.46v1.5h-1.46zM602.0 499.6h1.46v1.5h-1.46zM603.4 499.6h1.46v1.5h-1.46zM604.9 498.1h1.46v2.9h-1.46zM606.4 487.9h1.46v10.2h-1.46zM607.8 473.2h1.46v14.6h-1.46zM609.3 464.5h1.46v8.8h-1.46zM610.7 460.1h1.46v4.4h-1.46zM612.2 457.1h1.46v7.3h-1.46zM613.7 464.5h1.46v14.6h-1.46zM615.1 479.1h1.46v11.7h-1.46zM616.6 490.8h1.46v7.3h-1.46zM618.1 489.3h1.46v11.7h-1.46zM619.5 474.7h1.46v14.6h-1.46zM621.0 465.9h1.46v8.8h-1.46zM622.4 460.1h1.46v10.2h-1.46zM623.9 470.3h1.46v14.6h-1.46zM625.4 484.9h1.46v10.2h-1.46zM626.8 495.2h1.46v2.9h-1.46zM628.3 498.1h1.46v1.5h-1.46zM629.8 498.1h1.46v2.9h-1.46zM631.2 496.6h1.46v1.5h-1.46zM632.7 496.6h1.46v1.5h-1.46zM634.1 492.3h1.46v4.4h-1.46zM635.6 483.5h1.46v8.8h-1.46zM637.1 476.2h1.46v7.3h-1.46zM638.5 471.8h1.46v4.4h-1.46zM640.0 463.0h1.46v8.8h-1.46zM641.5 457.1h1.46v8.8h-1.46zM642.9 465.9h1.46v8.8h-1.46zM644.4 474.7h1.46v23.4h-1.46zM645.9 423.5h1.46v65.8h-1.46zM647.3 413.3h1.46v10.2h-1.46zM648.8 419.1h1.46v8.8h-1.46zM650.2 427.9h1.46v5.9h-1.46zM651.7 433.7h1.46v54.1h-1.46zM653.2 487.9h1.46v7.3h-1.46zM654.6 495.2h1.46v5.9h-1.46zM656.1 499.6h1.46v1.5h-1.46zM657.6 496.6h1.46v4.4h-1.46zM659.0 486.4h1.46v10.2h-1.46zM660.5 471.8h1.46v14.6h-1.46zM661.9 455.7h1.46v16.1h-1.46zM663.4 457.1h1.46v1.5h-1.46zM664.9 458.6h1.46v10.2h-1.46zM666.3 468.8h1.46v11.7h-1.46zM667.8 480.5h1.46v8.8h-1.46zM669.3 489.3h1.46v7.3h-1.46zM670.7 496.6h1.46v2.9h-1.46zM672.2 499.6h1.46v1.5h-1.46zM673.6 499.6h1.46v1.5h-1.46zM675.1 501.0h1.46v1.5h-1.46zM676.6 502.5h1.46v1.5h-1.46zM678.0 483.5h1.46v19.0h-1.46zM679.5 464.5h1.46v19.0h-1.46zM681.0 458.6h1.46v5.9h-1.46zM682.4 410.3h1.46v48.3h-1.46zM683.9 404.5h1.46v5.9h-1.46zM685.3 408.9h1.46v8.8h-1.46zM686.8 417.6h1.46v4.4h-1.46zM686.8 457.1h1.46v35.1h-1.46zM688.3 422.0h1.46v51.2h-1.46zM689.7 405.9h1.46v24.9h-1.46zM691.2 386.9h1.46v19.0h-1.46zM692.7 373.8h1.46v13.2h-1.46zM694.1 346.0h1.46v27.8h-1.46zM695.6 357.7h1.46v46.8h-1.46zM697.1 403.0h1.46v81.9h-1.46zM698.5 464.5h1.46v26.3h-1.46zM700.0 419.1h1.46v45.3h-1.46zM701.4 316.7h1.46v102.4h-1.46zM702.9 325.5h1.46v23.4h-1.46zM704.4 348.9h1.46v81.9h-1.46zM705.8 430.8h1.46v5.9h-1.46zM707.3 436.7h1.46v1.5h-1.46zM708.8 438.1h1.46v30.7h-1.46zM710.2 458.6h1.46v5.9h-1.46zM711.7 454.2h1.46v4.4h-1.46zM713.1 449.8h1.46v4.4h-1.46zM714.6 446.9h1.46v2.9h-1.46zM716.1 425.0h1.46v21.9h-1.46zM717.5 436.7h1.46v11.7h-1.46zM719.0 448.4h1.46v30.7h-1.46zM720.5 479.1h1.46v2.9h-1.46zM721.9 482.0h1.46v7.3h-1.46zM723.4 487.9h1.46v5.9h-1.46zM724.8 464.5h1.46v23.4h-1.46zM726.3 446.9h1.46v17.6h-1.46zM727.8 446.9h1.46v1.5h-1.46zM729.2 448.4h1.46v1.5h-1.46zM730.7 448.4h1.46v35.1h-1.46zM732.2 483.5h1.46v5.9h-1.46zM733.6 489.3h1.46v14.6h-1.46zM735.1 502.5h1.46v1.5h-1.46zM736.5 502.5h1.46v1.5h-1.46zM738.0 502.5h1.46v1.5h-1.46zM739.5 480.5h1.46v23.4h-1.46zM740.9 480.5h1.46v1.5h-1.46zM742.4 477.6h1.46v2.9h-1.46zM743.9 474.7h1.46v2.9h-1.46zM745.3 473.2h1.46v11.7h-1.46zM746.8 464.5h1.46v14.6h-1.46zM748.3 455.7h1.46v8.8h-1.46zM749.7 464.5h1.46v11.7h-1.46zM751.2 476.2h1.46v14.6h-1.46zM752.6 490.8h1.46v13.2h-1.46zM754.1 489.3h1.46v14.6h-1.46zM755.6 473.2h1.46v16.1h-1.46zM757.0 464.5h1.46v8.8h-1.46zM758.5 444.0h1.46v20.5h-1.46zM760.0 427.9h1.46v16.1h-1.46zM761.4 433.7h1.46v17.6h-1.46zM762.9 451.3h1.46v19.0h-1.46zM764.3 470.3h1.46v8.8h-1.46zM765.8 426.4h1.46v57.1h-1.46zM767.3 420.6h1.46v5.9h-1.46zM768.7 417.6h1.46v10.2h-1.46zM770.2 427.9h1.46v10.2h-1.46zM771.7 432.3h1.46v2.9h-1.46zM773.1 430.8h1.46v26.3h-1.46zM774.6 457.1h1.46v33.6h-1.46zM776.0 490.8h1.46v13.2h-1.46zM777.5 493.7h1.46v5.9h-1.46zM779.0 482.0h1.46v11.7h-1.46zM780.4 471.8h1.46v10.2h-1.46zM781.9 477.6h1.46v5.9h-1.46zM783.4 474.7h1.46v4.4h-1.46zM784.8 474.7h1.46v1.5h-1.46zM786.3 474.7h1.46v5.9h-1.46zM787.7 480.5h1.46v4.4h-1.46zM789.2 479.1h1.46v2.9h-1.46zM790.7 449.8h1.46v29.3h-1.46zM792.1 452.8h1.46v2.9h-1.46zM793.6 455.7h1.46v23.4h-1.46zM795.1 479.1h1.46v16.1h-1.46zM796.5 492.3h1.46v1.5h-1.46zM798.0 473.2h1.46v19.0h-1.46zM799.5 473.2h1.46v1.5h-1.46zM800.9 473.2h1.46v2.9h-1.46zM802.4 476.2h1.46v11.7h-1.46zM803.8 487.9h1.46v13.2h-1.46zM805.3 501.0h1.46v2.9h-1.46zM806.8 502.5h1.46v1.5h-1.46zM808.2 501.0h1.46v1.5h-1.46zM809.7 501.0h1.46v1.5h-1.46zM811.2 487.9h1.46v13.2h-1.46zM812.6 476.2h1.46v11.7h-1.46zM814.1 476.2h1.46v1.5h-1.46zM815.5 477.6h1.46v13.2h-1.46zM817.0 490.8h1.46v13.2h-1.46zM818.5 495.2h1.46v8.8h-1.46zM819.9 487.9h1.46v7.3h-1.46zM821.4 487.9h1.46v1.5h-1.46zM822.9 482.0h1.46v5.9h-1.46zM824.3 476.2h1.46v14.6h-1.46zM825.8 489.3h1.46v1.5h-1.46zM827.2 490.8h1.46v13.2h-1.46zM828.7 502.5h1.46v1.5h-1.46zM830.2 502.5h1.46v1.5h-1.46zM831.6 501.0h1.46v1.5h-1.46zM833.1 496.6h1.46v4.4h-1.46zM834.6 493.7h1.46v2.9h-1.46zM836.0 493.7h1.46v1.5h-1.46zM837.5 493.7h1.46v2.9h-1.46zM838.9 496.6h1.46v2.9h-1.46zM840.4 499.6h1.46v1.5h-1.46zM841.9 501.0h1.46v2.9h-1.46zM843.3 498.1h1.46v7.3h-1.46zM844.8 482.0h1.46v16.1h-1.46zM846.3 463.0h1.46v19.0h-1.46zM847.7 452.8h1.46v10.2h-1.46zM849.2 458.6h1.46v10.2h-1.46zM850.7 468.8h1.46v8.8h-1.46zM852.1 477.6h1.46v10.2h-1.46zM853.6 487.9h1.46v7.3h-1.46zM855.0 495.2h1.46v4.4h-1.46zM856.5 457.1h1.46v43.9h-1.46zM858.0 419.1h1.46v38.0h-1.46zM859.4 408.9h1.46v10.2h-1.46zM860.9 416.2h1.46v7.3h-1.46zM862.4 422.0h1.46v1.5h-1.46zM863.8 423.5h1.46v62.9h-1.46zM865.3 486.4h1.46v8.8h-1.46zM866.7 495.2h1.46v7.3h-1.46zM868.2 501.0h1.46v1.5h-1.46zM869.7 444.0h1.46v58.5h-1.46zM871.1 444.0h1.46v1.5h-1.46zM872.6 442.5h1.46v27.8h-1.46zM874.1 470.3h1.46v27.8h-1.46zM875.5 487.9h1.46v5.9h-1.46zM877.0 483.5h1.46v4.4h-1.46zM878.4 487.9h1.46v4.4h-1.46zM879.9 492.3h1.46v1.5h-1.46zM881.4 489.3h1.46v5.9h-1.46zM882.8 476.2h1.46v13.2h-1.46zM884.3 464.5h1.46v11.7h-1.46zM885.8 460.1h1.46v4.4h-1.46zM887.2 423.5h1.46v38.0h-1.46zM888.7 420.6h1.46v4.4h-1.46zM890.1 425.0h1.46v19.0h-1.46zM891.6 442.5h1.46v1.5h-1.46zM893.1 442.5h1.46v55.6h-1.46zM894.5 489.3h1.46v11.7h-1.46zM896.0 474.7h1.46v14.6h-1.46zM897.5 463.0h1.46v11.7h-1.46zM898.9 455.7h1.46v8.8h-1.46zM900.4 464.5h1.46v17.6h-1.46zM901.9 482.0h1.46v5.9h-1.46zM903.3 487.9h1.46v4.4h-1.46zM904.8 492.3h1.46v4.4h-1.46zM906.2 492.3h1.46v7.3h-1.46zM907.7 483.5h1.46v8.8h-1.46zM909.2 441.1h1.46v42.4h-1.46zM910.6 435.2h1.46v5.9h-1.46zM912.1 439.6h1.46v8.8h-1.46zM913.6 448.4h1.46v32.2h-1.46zM915.0 465.9h1.46v10.2h-1.46zM916.5 458.6h1.46v7.3h-1.46zM917.9 460.1h1.46v4.4h-1.46zM919.4 464.5h1.46v21.9h-1.46zM920.9 486.4h1.46v10.2h-1.46zM922.3 476.2h1.46v10.2h-1.46zM923.8 417.6h1.46v58.5h-1.46zM925.3 388.4h1.46v29.3h-1.46zM926.7 392.8h1.46v13.2h-1.46zM928.2 404.5h1.46v83.4h-1.46zM929.6 464.5h1.46v17.6h-1.46zM931.1 446.9h1.46v17.6h-1.46zM932.6 442.5h1.46v4.4h-1.46zM934.0 438.1h1.46v4.4h-1.46zM935.5 435.2h1.46v2.9h-1.46zM937.0 435.2h1.46v1.5h-1.46zM938.4 416.2h1.46v21.9h-1.46zM939.9 413.3h1.46v2.9h-1.46zM941.3 410.3h1.46v2.9h-1.46zM942.8 394.2h1.46v16.1h-1.46zM944.3 398.6h1.46v11.7h-1.46zM945.7 410.3h1.46v68.8h-1.46zM947.2 479.1h1.46v10.2h-1.46zM948.7 489.3h1.46v2.9h-1.46zM950.1 439.6h1.46v54.1h-1.46zM951.6 366.4h1.46v73.1h-1.46zM953.1 373.8h1.46v11.7h-1.46zM954.5 385.5h1.46v16.1h-1.46zM956.0 395.7h1.46v7.3h-1.46zM957.4 388.4h1.46v7.3h-1.46zM958.9 394.2h1.46v23.4h-1.46zM960.4 416.2h1.46v67.3h-1.46zM961.8 476.2h1.46v4.4h-1.46zM963.3 473.2h1.46v2.9h-1.46zM964.8 451.3h1.46v21.9h-1.46zM966.2 408.9h1.46v42.4h-1.46zM967.7 408.9h1.46v1.5h-1.46zM969.1 408.9h1.46v1.5h-1.46zM970.6 372.3h1.46v17.6h-1.46zM970.6 407.4h1.46v1.5h-1.46zM972.1 354.7h1.46v17.6h-1.46zM972.1 389.9h1.46v19.0h-1.46zM973.5 338.7h1.46v16.1h-1.46zM975.0 343.0h1.46v5.9h-1.46zM976.5 348.9h1.46v16.1h-1.46zM977.9 365.0h1.46v14.6h-1.46zM979.4 378.1h1.46v41.0h-1.46z"/>
</g>
</svg></body></html>
